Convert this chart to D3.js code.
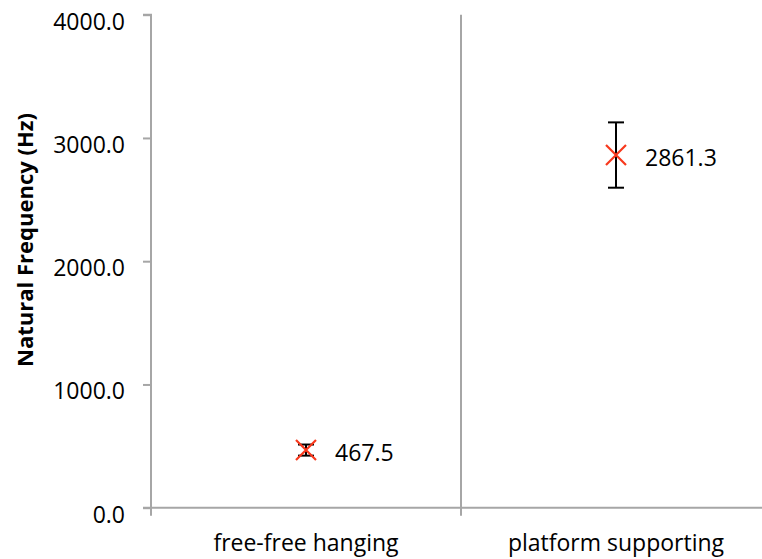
<!DOCTYPE html>
<html>
<head>
<meta charset="utf-8">
<script src="https://cdn.jsdelivr.net/npm/d3@7"></script>
<style>
  html, body { margin: 0; padding: 0; background: #fff; }
  svg { display: block; font-family: "Open Sans", sans-serif; }
</style>
</head>
<body>
<svg id="chart" width="762" height="559"></svg>
<script>
// Natural frequency by support condition, mean with error bars
const categories = ["free-free hanging", "platform supporting"];
const frequency = [467.5, 2861.3];
const errorHz = [45, 265];
const yTicks = [0, 1000, 2000, 3000, 4000];
const yTitle = "Natural Frequency (Hz)";

(function () {
const svg = d3.select("#chart");
const axisColor = "#a6a6a6";
const markColor = "#f8381c";

const plotLeft = 151, plotTop = 14.7, plotBottom = 507.7, bandRight = 771;

const x = d3.scaleBand().domain(categories).range([plotLeft, bandRight]).paddingInner(0).paddingOuter(0);
const y = d3.scaleLinear().domain([0, 4000]).range([plotBottom, plotTop]);

// category boundary gridlines
const bounds = categories.slice(1).map(c => x(c));
svg.selectAll("line.vgrid").data(bounds).join("line")
  .attr("class", "vgrid")
  .attr("x1", d => d).attr("x2", d => d)
  .attr("y1", plotTop).attr("y2", plotBottom + 8)
  .attr("stroke", axisColor).attr("stroke-width", 2);

// y axis
const yAxis = d3.axisLeft(y).tickValues(yTicks).tickSize(8).tickPadding(18)
  .tickFormat(d3.format(".1f"));
const gy = svg.append("g").attr("transform", `translate(${plotLeft},0)`).call(yAxis);
gy.select(".domain").attr("stroke", axisColor).attr("stroke-width", 2)
  .attr("d", `M${-8},${plotTop}H0V${plotBottom}H-8`);
gy.selectAll(".tick line").attr("stroke", axisColor).attr("stroke-width", 2);
gy.selectAll(".tick text").attr("font-size", 23).attr("fill", "#000")
  .attr("font-family", "Open Sans").attr("dy", "0.5em").attr("y", 3);

// x axis
const xAxis = d3.axisBottom(x).tickSize(0).tickPadding(0);
const gx = svg.append("g").attr("transform", `translate(0,${plotBottom})`).call(xAxis);
gx.select(".domain").attr("stroke", axisColor).attr("stroke-width", 2)
  .attr("d", `M${plotLeft},0H${bandRight}`);
gx.selectAll(".tick line").remove();
gx.selectAll(".tick text").attr("font-size", 23).attr("fill", "#000")
  .attr("font-family", "Open Sans").attr("y", 43.5).attr("dy", 0);
// tick at left edge of first category
svg.append("line")
  .attr("x1", plotLeft).attr("x2", plotLeft).attr("y1", plotBottom).attr("y2", plotBottom + 8)
  .attr("stroke", axisColor).attr("stroke-width", 2);

// y axis title
svg.append("text")
  .attr("transform", `translate(33,240) rotate(-90)`)
  .attr("text-anchor", "middle")
  .attr("font-size", 22).attr("font-weight", "bold")
  .attr("font-family", "Open Sans")
  .text(yTitle);

const pts = categories.map((c, i) => ({
  cx: x(c) + x.bandwidth() / 2,
  v: frequency[i],
  e: errorHz[i]
}));

// error bars
const eb = svg.selectAll("g.err").data(pts).join("g").attr("class", "err");
eb.append("line")
  .attr("x1", d => d.cx).attr("x2", d => d.cx)
  .attr("y1", d => y(d.v + d.e)).attr("y2", d => y(d.v - d.e))
  .attr("stroke", "#000").attr("stroke-width", 2);
eb.selectAll("line.cap").data(d => [[d.cx, d.v + d.e], [d.cx, d.v - d.e]]).join("line")
  .attr("class", "cap")
  .attr("x1", d => d[0] - 8).attr("x2", d => d[0] + 8)
  .attr("y1", d => y(d[1])).attr("y2", d => y(d[1]))
  .attr("stroke", "#000").attr("stroke-width", 2);

// x markers
const s = 10;
svg.selectAll("path.mark").data(pts).join("path")
  .attr("class", "mark")
  .attr("d", d => {
    const px = d.cx, py = y(d.v);
    return `M${px - s},${py - s}L${px + s},${py + s}M${px - s},${py + s}L${px + s},${py - s}`;
  })
  .attr("stroke", markColor).attr("stroke-width", 2.2).attr("fill", "none");

// value labels
svg.selectAll("text.val").data(pts).join("text")
  .attr("class", "val")
  .attr("x", d => d.cx + 29)
  .attr("y", d => y(d.v) + 11)
  .attr("font-size", 23).attr("font-family", "Open Sans")
  .text(d => d3.format(".1f")(d.v));
})();
</script>
</body>
</html>
